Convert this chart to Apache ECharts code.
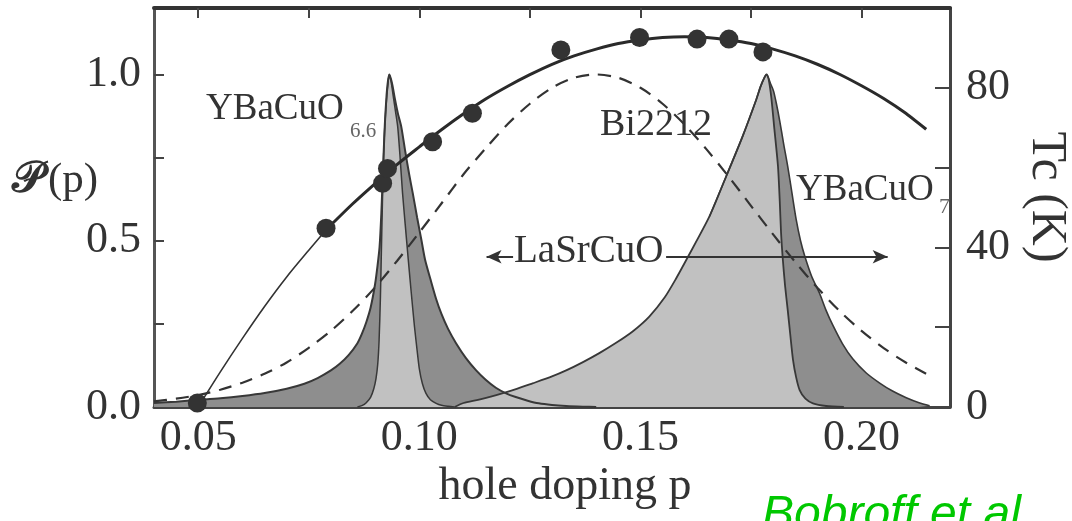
<!DOCTYPE html>
<html><head><meta charset="utf-8">
<script src="https://cdn.jsdelivr.net/npm/echarts@6.0.0/dist/echarts.min.js"></script>
<style>html,body{margin:0;padding:0;background:#fff}#c{width:1072px;height:521px}</style>
</head><body><div id="c"></div>
<script>
// ---- axes / ticks ----
const xTicks = [0.05, 0.075, 0.10, 0.125, 0.15, 0.175, 0.20];
const xLabels = [0.05, 0.10, 0.15, 0.20];
const pTicks = [0, 0.25, 0.5, 0.75, 1.0];
const pLabels = [0, 0.5, 1.0];
const tcTicks = [0, 20, 40, 60, 80];
const tcLabels = [0, 40, 80];

// ---- YBaCuO6.6 distribution, broad part (dark) [p, P] ----
const ybco66Dark = [[0.040,0.012],[0.045,0.016],[0.050,0.021],[0.055,0.026],[0.060,0.033],[0.065,0.042],[0.070,0.055],[0.074,0.070],[0.077,0.087],[0.080,0.110],[0.082,0.130],[0.084,0.156],[0.086,0.192],[0.087,0.220],[0.088,0.255],[0.089,0.300],[0.090,0.370],[0.0905,0.420],[0.091,0.480],[0.0914,0.580],[0.0918,0.720],[0.0922,0.850],[0.0926,0.940],[0.0929,0.980],[0.0932,1.0],[0.0938,0.975],[0.0945,0.925],[0.0952,0.880],[0.0959,0.844],[0.0968,0.770],[0.0977,0.700],[0.0985,0.644],[0.0995,0.570],[0.1005,0.500],[0.1013,0.443],[0.1025,0.385],[0.1038,0.325],[0.1050,0.280],[0.1065,0.235],[0.1083,0.192],[0.1105,0.148],[0.1128,0.111],[0.1150,0.082],[0.1173,0.058],[0.1195,0.042],[0.1218,0.030],[0.1245,0.019],[0.1270,0.011],[0.1300,0.006],[0.1332,0.003],[0.1370,0.001],[0.1400,0.0]];
// ---- YBaCuO6.6 distribution, narrow part (light) ----
const ybco66Light = [[0.0860,0.0],[0.0870,0.004],[0.0880,0.013],[0.0890,0.030],[0.0897,0.055],[0.0902,0.085],[0.0906,0.130],[0.0909,0.200],[0.0912,0.330],[0.0915,0.520],[0.0918,0.700],[0.0921,0.820],[0.0925,0.910],[0.0929,0.970],[0.0932,1.0],[0.0936,0.980],[0.0941,0.935],[0.0946,0.890],[0.0951,0.844],[0.0956,0.760],[0.0962,0.644],[0.0968,0.550],[0.0975,0.443],[0.0982,0.340],[0.0989,0.242],[0.0995,0.170],[0.1000,0.115],[0.1007,0.070],[0.1015,0.041],[0.1025,0.022],[0.1038,0.011],[0.1050,0.005],[0.1065,0.002],[0.1080,0.0]];
// ---- YBaCuO7 distribution, right tail (dark) ----
const ybco7Dark = [[0.1656,0.573],[0.1694,0.694],[0.1731,0.814],[0.1762,0.925],[0.1772,0.965],[0.1780,0.990],[0.1785,1.0],[0.1795,0.970],[0.1801,0.950],[0.1807,0.915],[0.1815,0.860],[0.1824,0.790],[0.1833,0.724],[0.1843,0.640],[0.1852,0.565],[0.1862,0.500],[0.1872,0.452],[0.1888,0.390],[0.1905,0.342],[0.1920,0.290],[0.1935,0.246],[0.1957,0.190],[0.1980,0.145],[0.2010,0.103],[0.2041,0.072],[0.2070,0.048],[0.2101,0.028],[0.2130,0.013],[0.2154,0.004]];
// ---- YBaCuO7 distribution, broad left part (light) ----
const ybco7Light = [[0.1080,0.0],[0.1100,0.012],[0.1135,0.022],[0.1174,0.036],[0.1215,0.052],[0.1256,0.071],[0.1300,0.092],[0.1332,0.110],[0.1370,0.135],[0.1407,0.162],[0.1445,0.193],[0.1483,0.228],[0.1520,0.272],[0.1555,0.330],[0.1580,0.385],[0.1606,0.448],[0.1656,0.573],[0.1694,0.694],[0.1731,0.814],[0.1762,0.925],[0.1772,0.965],[0.1780,0.990],[0.1785,1.0],[0.1790,0.985],[0.1796,0.930],[0.1803,0.834],[0.1811,0.724],[0.1815,0.620],[0.1818,0.523],[0.1822,0.443],[0.1827,0.365],[0.1833,0.292],[0.1839,0.215],[0.1845,0.142],[0.1852,0.090],[0.1860,0.051],[0.1873,0.025],[0.1890,0.011],[0.1920,0.003],[0.1960,0.0]];
// ---- Bi2212 distribution (dashed) ----
const bi2212 = [[0.040,0.017],[0.045,0.025],[0.050,0.036],[0.055,0.052],[0.060,0.073],[0.065,0.100],[0.070,0.134],[0.075,0.178],[0.080,0.229],[0.085,0.29],[0.090,0.36],[0.095,0.44],[0.100,0.525],[0.105,0.612],[0.110,0.70],[0.115,0.778],[0.120,0.851],[0.125,0.912],[0.130,0.960],[0.135,0.990],[0.140,1.0],[0.145,0.990],[0.150,0.960],[0.155,0.912],[0.160,0.849],[0.165,0.774],[0.170,0.692],[0.175,0.605],[0.180,0.519],[0.185,0.436],[0.190,0.359],[0.195,0.289],[0.200,0.229],[0.205,0.177],[0.210,0.134],[0.2146,0.100]];
// ---- Tc(p) dome, K ----
const tcExtrap = [[0.050,0],[0.055,8.8],[0.060,17.2],[0.065,25.2],[0.070,32.6],[0.075,39.3],[0.079,44.5]];
const tcDome = [[0.079,44.5],[0.085,51],[0.090,56],[0.095,60.8],[0.100,65.2],[0.105,69.5],[0.110,73.5],[0.115,77.2],[0.120,80.4],[0.125,83.3],[0.130,85.9],[0.135,88],[0.140,89.7],[0.145,91.1],[0.150,92],[0.155,92.6],[0.160,92.8],[0.165,92.6],[0.170,92],[0.175,91.1],[0.180,89.7],[0.185,88],[0.190,85.9],[0.195,83.4],[0.200,80.5],[0.205,77.3],[0.210,73.6],[0.2146,69.6]];
const tcDots = [[0.0498,1],[0.0789,44.8],[0.0917,56.1],[0.0928,59.8],[0.103,66.5],[0.112,73.6],[0.132,89.5],[0.1498,92.6],[0.1628,92.2],[0.170,92.2],[0.1777,89.0]];
// ---- LaSrCuO range arrow ----
const arrowLeft = [[0.1152,0.452],[0.1212,0.452]];
const arrowRight = [[0.1558,0.452],[0.2059,0.452]];

const DARK = '#8e8e8e', LIGHT = '#c1c1c1', INK = '#333333';
const SERIF = '"Liberation Serif", "Times New Roman", serif';
const SM = 0.25;

function fill(data, color, z) {
  return {type:'line', data, xAxisIndex:0, yAxisIndex:0, smooth:SM,
    showSymbol:false, symbol:'none', silent:true, z,
    lineStyle:{width:0, color}, areaStyle:{color, opacity:1, origin:'start'}};
}
function outline(data, width, z) {
  return {type:'line', data, xAxisIndex:0, yAxisIndex:0, smooth:SM,
    showSymbol:false, symbol:'none', silent:true, z,
    lineStyle:{width, color:'#383838'}};
}

const chart = echarts.init(document.getElementById('c'), null, {renderer:'canvas'});
const axisText = {fontFamily: SERIF, color: INK};
chart.setOption({
  animation:false,
  backgroundColor:'#ffffff',
  grid:{left:154, right:122, top:8, bottom:114, containLabel:false},
  xAxis:[
    {type:'value', min:0.04, max:0.22, position:'bottom',
     axisLine:{show:true, onZero:false, lineStyle:{color:'#444', width:3}},
     axisTick:{show:true, inside:true, length:7, customValues:xTicks, lineStyle:{color:'#444', width:2}},
     axisLabel:{customValues:xLabels, margin:9, fontSize:44, ...axisText, formatter:v=>v.toFixed(2)},
     splitLine:{show:false}},
    {type:'value', min:0.04, max:0.22, position:'top',
     axisLine:{show:true, onZero:false, lineStyle:{color:'#333', width:4}},
     axisTick:{show:true, inside:true, length:10, customValues:xTicks, lineStyle:{color:'#444', width:2}},
     axisLabel:{show:false}, splitLine:{show:false}}
  ],
  yAxis:[
    {type:'value', min:0, max:1.2, position:'left',
     axisLine:{show:true, onZero:false, lineStyle:{color:'#555', width:3}},
     axisTick:{show:true, inside:true, length:10, customValues:pTicks, lineStyle:{color:'#444', width:2}},
     axisLabel:{customValues:pLabels, margin:13, fontSize:44, ...axisText, formatter:v=>v.toFixed(1)},
     splitLine:{show:false}},
    {type:'value', min:0, max:100, position:'right',
     axisLine:{show:true, onZero:false, lineStyle:{color:'#444', width:3}},
     axisTick:{show:true, inside:true, length:15, customValues:tcTicks, lineStyle:{color:'#444', width:2}},
     axisLabel:{customValues:tcLabels, margin:16, fontSize:44, ...axisText, formatter:v=>String(v)},
     splitLine:{show:false}}
  ],
  series:[
    fill(ybco66Dark, DARK, 1),
    fill(ybco66Light, LIGHT, 1),
    fill(ybco7Dark, DARK, 1),
    fill(ybco7Light, LIGHT, 1),
    outline(ybco66Dark, 2, 2),
    outline(ybco66Light, 1.5, 2),
    outline(ybco7Dark, 1.6, 2),
    outline(ybco7Light, 1.8, 2),
    {type:'line', name:'Bi2212', data:bi2212, xAxisIndex:0, yAxisIndex:0, smooth:0.3,
     showSymbol:false, symbol:'none', silent:true, z:3,
     lineStyle:{color:INK, width:2.2, type:[13,9]},
     markLine:{silent:true, symbol:['none','none'], label:{show:false},
       lineStyle:{color:INK, width:2, type:'solid'},
       data:[
         [{coord:arrowLeft[0], symbol:'arrow', symbolSize:[10,15]},{coord:arrowLeft[1], symbol:'none'}],
         [{coord:arrowRight[0], symbol:'none'},{coord:arrowRight[1], symbol:'arrow', symbolSize:[10,15]}]
       ]}},
    {type:'line', data:tcExtrap, xAxisIndex:0, yAxisIndex:1, smooth:0.3, showSymbol:false, symbol:'none',
     silent:true, z:4, lineStyle:{color:INK, width:1.6}},
    {type:'line', data:tcDome, xAxisIndex:0, yAxisIndex:1, smooth:0.3, showSymbol:false, symbol:'none',
     silent:true, z:4, lineStyle:{color:'#2a2a2a', width:3}},
    {type:'scatter', data:tcDots, xAxisIndex:0, yAxisIndex:1, symbol:'circle', symbolSize:19,
     silent:true, z:5, itemStyle:{color:'#333', opacity:1}}
  ],
  graphic:[
    {type:'text', x:206, y:109, z:10, style:{text:'YBaCuO', font:'37px '+SERIF, fill:INK, textVerticalAlign:'middle', verticalAlign:'middle'}},
    {type:'text', x:350, y:131, z:10, style:{text:'6.6', font:'21px '+SERIF, fill:'#666', textVerticalAlign:'middle', verticalAlign:'middle'}},
    {type:'text', x:600, y:125, z:10, style:{text:'Bi2212', font:'38px '+SERIF, fill:INK, textVerticalAlign:'middle', verticalAlign:'middle'}},
    {type:'text', x:796, y:190, z:10, style:{text:'YBaCuO', font:'37px '+SERIF, fill:INK, textVerticalAlign:'middle', verticalAlign:'middle'}},
    {type:'text', x:939, y:207, z:10, style:{text:'7', font:'22px '+SERIF, fill:'#666', textVerticalAlign:'middle', verticalAlign:'middle'}},
    {type:'text', x:514, y:252, z:10, style:{text:'LaSrCuO', font:'39px '+SERIF, fill:INK, textVerticalAlign:'middle', verticalAlign:'middle'}},
    {type:'text', x:12, y:181, z:10, style:{text:'\uD835\uDCAB', font:'bold 44px '+SERIF, fill:INK, textVerticalAlign:'middle', verticalAlign:'middle'}},
    {type:'text', x:48, y:181, z:10, style:{text:'(p)', font:'43px '+SERIF, fill:INK, textVerticalAlign:'middle', verticalAlign:'middle'}},
    {type:'text', x:1046, y:197, rotation:-Math.PI/2, z:10, style:{text:'Tc (K)', font:'50px '+SERIF, fill:INK, textAlign:'center', align:'center', textVerticalAlign:'middle', verticalAlign:'middle'}},
    {type:'text', x:565, y:487, z:10, style:{text:'hole doping p', font:'46px '+SERIF, fill:INK, textAlign:'center', align:'center', textVerticalAlign:'middle', verticalAlign:'middle'}},
    {type:'text', x:762, y:516, z:10, style:{text:'Bobroff et al', font:'italic 48px "Liberation Sans", Arial, sans-serif', fill:'#00c800', textVerticalAlign:'middle', verticalAlign:'middle'}}
  ]
});
</script>
</body></html>
